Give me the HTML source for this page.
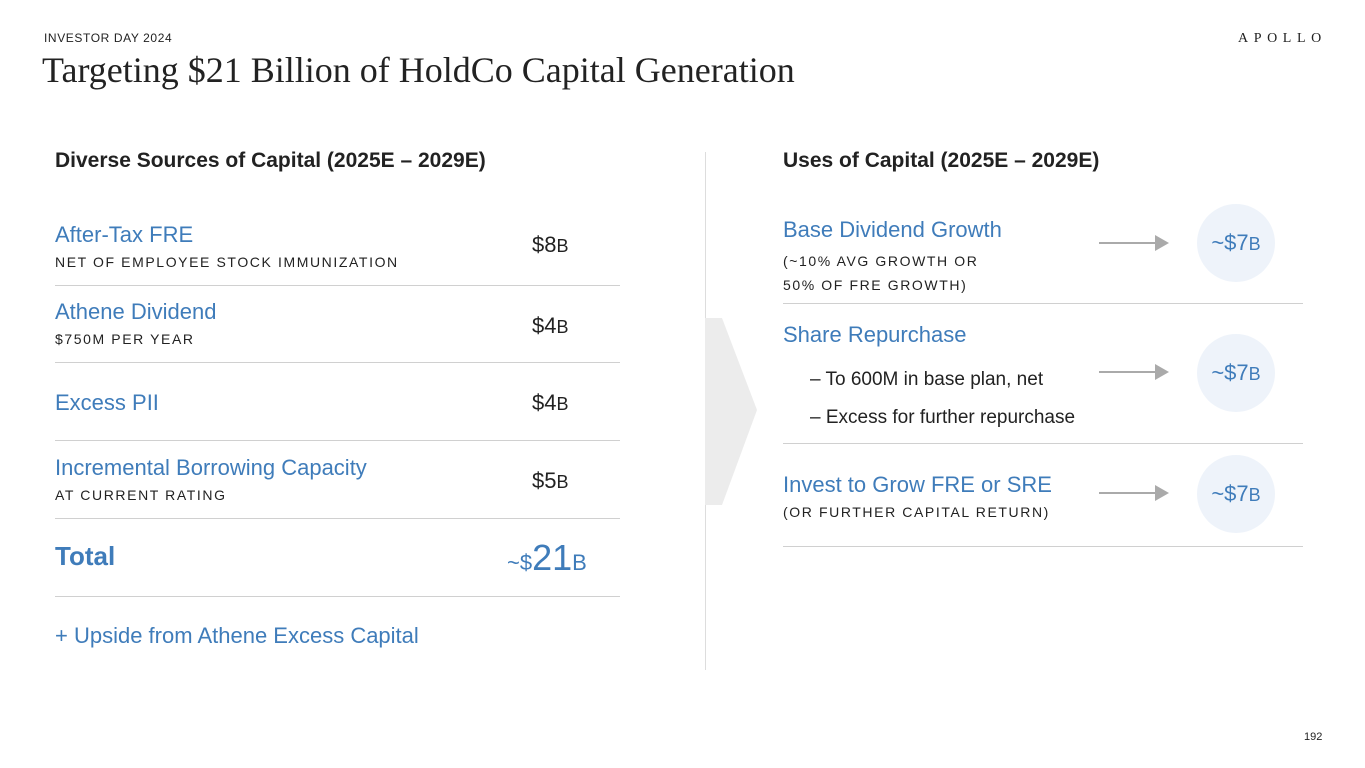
<!DOCTYPE html>
<html><head><meta charset="utf-8"><style>
body{margin:0;width:1365px;height:768px;background:#fff;position:relative;overflow:hidden;font-family:"Liberation Sans",sans-serif;}
.a{position:absolute;white-space:nowrap;}
.b{color:#3f7cba;font-size:22px;}
.s{color:#222;font-size:14px;letter-spacing:1.6px;}
.v{color:#222;font-size:22px;}
.v small{font-size:18px;}
.h{position:absolute;height:1px;background:#d0d0d0;}
.c{position:absolute;width:78px;height:78px;border-radius:50%;background:#eef3fa;color:#3f7cba;font-size:22px;text-align:center;line-height:78px;}
.c small{font-size:18px;}
.ar{position:absolute;height:2px;background:#aaa;width:58px;}
.ar:after{content:"";position:absolute;right:-12px;top:-7px;border-left:14px solid #aaa;border-top:8px solid transparent;border-bottom:8px solid transparent;}
</style></head><body>
<div class="a" style="left:44px;top:31px;font-size:12px;letter-spacing:0.6px;color:#222">INVESTOR DAY 2024</div>
<div class="a" style="left:1238px;top:31px;font-family:'Liberation Serif',serif;font-size:14px;letter-spacing:5.6px;color:#222">APOLLO</div>
<div class="a" style="left:42px;top:49px;font-family:'Liberation Serif',serif;font-size:36px;color:#222">Targeting $21 Billion of HoldCo Capital Generation</div>

<div class="a" style="left:55px;top:149px;font-size:21px;font-weight:bold;color:#222">Diverse Sources of Capital (2025E – 2029E)</div>
<div class="a" style="left:783px;top:149px;font-size:21px;font-weight:bold;color:#222">Uses of Capital (2025E – 2029E)</div>

<div style="position:absolute;left:705px;top:152px;width:1px;height:518px;background:#ddd"></div>
<svg style="position:absolute;left:0;top:0" width="1365" height="768"><polygon points="705,318 722,318 757,410 722,505 705,505" fill="#ececec"/></svg>

<div class="a b" style="left:55px;top:222px">After-Tax FRE</div>
<div class="a s" style="left:55px;top:254px">NET OF EMPLOYEE STOCK IMMUNIZATION</div>
<div class="a v" style="left:532px;top:232px">$8<small>B</small></div>
<div class="h" style="left:55px;top:285px;width:565px"></div>
<div class="a b" style="left:55px;top:299px">Athene Dividend</div>
<div class="a s" style="left:55px;top:331px">$750M PER YEAR</div>
<div class="a v" style="left:532px;top:313px">$4<small>B</small></div>
<div class="h" style="left:55px;top:362px;width:565px"></div>
<div class="a b" style="left:55px;top:390px">Excess PII</div>
<div class="a v" style="left:532px;top:390px">$4<small>B</small></div>
<div class="h" style="left:55px;top:440px;width:565px"></div>
<div class="a b" style="left:55px;top:455px">Incremental Borrowing Capacity</div>
<div class="a s" style="left:55px;top:487px">AT CURRENT RATING</div>
<div class="a v" style="left:532px;top:468px">$5<small>B</small></div>
<div class="h" style="left:55px;top:518px;width:565px"></div>
<div class="a" style="left:55px;top:541px;font-size:26px;font-weight:bold;color:#3f7cba">Total</div>
<div class="a" style="left:507px;top:537px;color:#3f7cba;font-size:36px"><span style="font-size:22px">~$</span>21<span style="font-size:22px">B</span></div>
<div class="h" style="left:55px;top:596px;width:565px"></div>
<div class="a b" style="left:55px;top:623px">+ Upside from Athene Excess Capital</div>

<div class="a b" style="left:783px;top:217px">Base Dividend Growth</div>
<div class="a s" style="left:783px;top:249px;line-height:24px">(~10% AVG GROWTH OR<br>50% OF FRE GROWTH)</div>
<div class="ar" style="left:1099px;top:242px"></div>
<div class="c" style="left:1197px;top:204px">~$7<small>B</small></div>
<div class="h" style="left:783px;top:303px;width:520px"></div>
<div class="a b" style="left:783px;top:322px">Share Repurchase</div>
<div class="a" style="left:810px;top:369px;font-size:19px;color:#222">– To 600M in base plan, net</div>
<div class="a" style="left:810px;top:407px;font-size:19px;color:#222">– Excess for further repurchase</div>
<div class="ar" style="left:1099px;top:371px"></div>
<div class="c" style="left:1197px;top:334px">~$7<small>B</small></div>
<div class="h" style="left:783px;top:443px;width:520px"></div>
<div class="a b" style="left:783px;top:472px">Invest to Grow FRE or SRE</div>
<div class="a s" style="left:783px;top:504px">(OR FURTHER CAPITAL RETURN)</div>
<div class="ar" style="left:1099px;top:492px"></div>
<div class="c" style="left:1197px;top:455px">~$7<small>B</small></div>
<div class="h" style="left:783px;top:546px;width:520px"></div>

<div class="a" style="left:1304px;top:731px;font-size:11px;color:#222">192</div>
</body></html>
